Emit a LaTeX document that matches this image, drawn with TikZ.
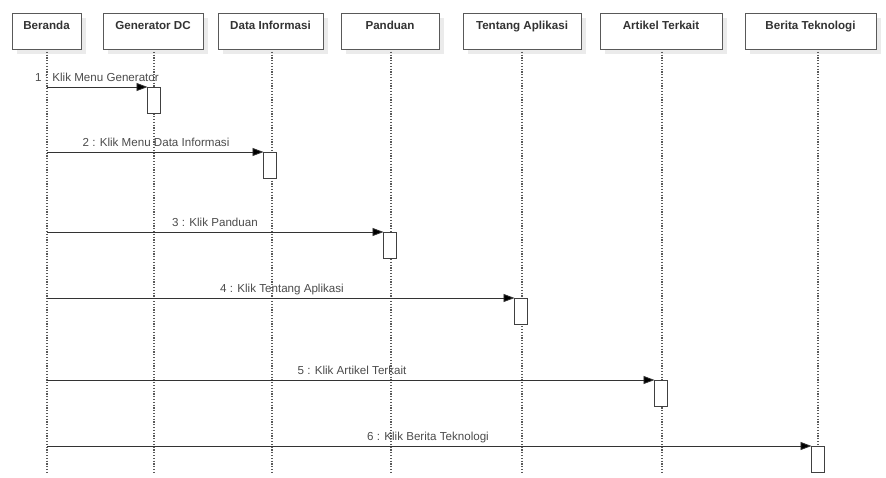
\documentclass[tikz,border=0pt]{standalone}
\usepackage{fontspec}
\setmainfont{Liberation Sans}
\usetikzlibrary{arrows.meta}
\begin{document}
\begin{tikzpicture}[x=1pt,y=-1pt,
  objbox/.style={draw=black!65,line width=0.8pt,fill=white},
  shadowbox/.style={fill=black!8,draw=none},
  lifeline/.style={draw=black!65,line width=1.2pt,dash pattern=on 1.2pt off 1.6pt},
  actbox/.style={draw=black!75,line width=0.8pt,fill=white},
  msg/.style={draw=black!80,line width=0.8pt,-{Triangle[length=11pt,width=8pt,fill=black]}},
  title/.style={font=\fontsize{11.6}{13}\selectfont\bfseries,text=black!80,inner sep=0pt},
  msglabel/.style={font=\fontsize{11.6}{13}\selectfont,text=black!70,inner sep=0pt}]
\useasboundingbox (0,0) rectangle (886,477);
\fill[white] (0,0) rectangle (886,477);

% object headers with soft shadow
\foreach \n/\xa/\xb/\t in {ber/12/81/Beranda, gen/103/203/Generator DC, dat/218/323/Data Informasi,
  pan/341/439/Panduan, ten/463/581/Tentang Aplikasi, art/600/722/Artikel Terkait, ber2/745/876/Berita Teknologi}{
  \fill[shadowbox] (\xa+5,18) rectangle (\xb+5,54);
  \draw[objbox] (\xa,13) rectangle (\xb,49);
  \node[title,anchor=base] (\n) at ({(\xa+\xb)/2},29.5) {\t};
}

% lifelines
\foreach \n/\x in {l1/47,l2/154,l3/272,l4/391,l5/522,l6/662,l7/818}{
  \coordinate (\n top) at (\x,49);
  \coordinate (\n bot) at (\x,474);
  \draw[lifeline] (\n top) -- (\n bot);
}

% activations
\foreach \n/\x/\y in {a1/154/87,a2/270/152,a3/390/232,a4/521/298,a5/661/380,a6/818/446}{
  \draw[actbox] (\x-6.5,\y) rectangle (\x+6.5,\y+26);
  \coordinate (\n) at (\x-6.5,\y);
}

% messages
\foreach \a/\y in {a1/87,a2/152,a3/232,a4/298,a5/380,a6/446}{
  \coordinate (s\a) at (47,\y);
  \draw[msg] (s\a) -- (\a);
}
\node[msglabel,anchor=base] (m1) at (97,81) {1 : Klik Menu Generator};
\node[msglabel,anchor=base] (m2) at (156,146) {2 : Klik Menu Data Informasi};
\node[msglabel,anchor=base] (m3) at (215,226) {3 : Klik Panduan};
\node[msglabel,anchor=base] (m4) at (282,292) {4 : Klik Tentang Aplikasi};
\node[msglabel,anchor=base] (m5) at (352,374) {5 : Klik Artikel Terkait};
\node[msglabel,anchor=base] (m6) at (428,440) {6 : Klik Berita Teknologi};
\end{tikzpicture}
\end{document}
